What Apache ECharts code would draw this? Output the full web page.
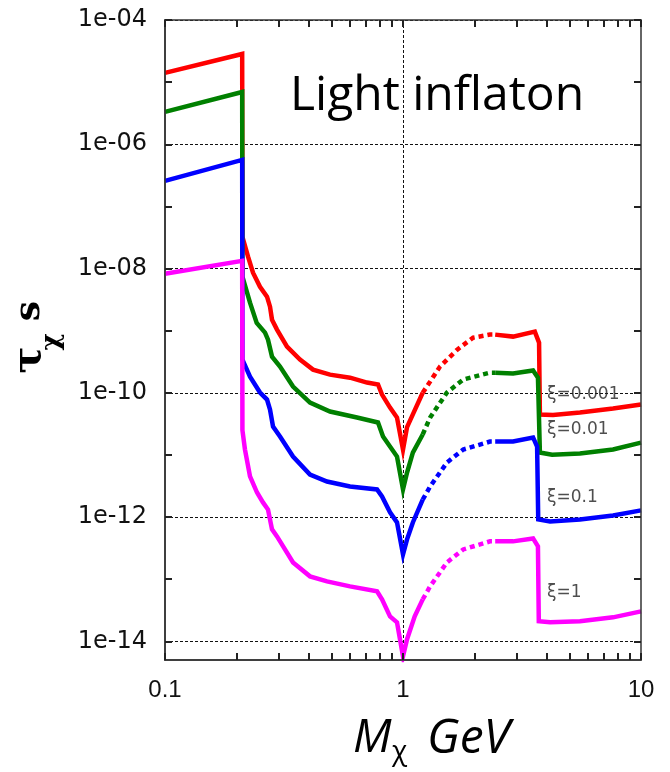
<!DOCTYPE html>
<html>
<head>
<meta charset="utf-8">
<title>Light inflaton lifetime</title>
<script src="https://cdn.jsdelivr.net/npm/echarts@6/dist/echarts.min.js"></script>
<style>
  html, body { margin: 0; padding: 0; background: #fff; }
  #chart { width: 670px; height: 772px; }
</style>
</head>
<body>
<div id="chart"></div>
<script>
// M_X [GeV] vs tau_X [s]; each coupling split into solid / dotted / solid pieces
const xi0001Low = [[0.1, 1.41e-5], [0.211, 2.84e-5], [0.2115, 3.24e-8], [0.2233, 1.55e-8], [0.2343, 8.55e-9],
  [0.2507, 5.09e-9], [0.2683, 3.52e-9], [0.2762, 2.43e-9], [0.2816, 1.50e-9], [0.2955, 1.04e-9],
  [0.3255, 5.53e-10], [0.3692, 3.42e-10], [0.4187, 2.36e-10], [0.4935, 1.96e-10], [0.5989, 1.75e-10],
  [0.7061, 1.46e-10], [0.7852, 1.36e-10], [0.8163, 9.35e-11], [0.882, 5.78e-11], [0.9437, 3.99e-11],
  [1.0, 1.22e-11], [1.04, 2.8e-11], [1.1, 4.5e-11], [1.21, 1.0e-10]];
const xi0001Gap = [[1.21, 1.0e-10], [1.26, 1.26e-10], [1.43, 2.64e-10], [1.69, 4.95e-10], [1.97, 7.71e-10],
  [2.32, 8.63e-10], [2.44, 8.63e-10]];
const xi0001High = [[2.44, 8.63e-10], [2.90, 8.02e-10], [3.58, 9.64e-10], [3.73, 6.41e-10], [3.76, 4.47e-11],
  [4.27, 4.4e-11], [5.54, 4.81e-11], [7.63, 5.57e-11], [10, 6.46e-11]];

const xi001Low = [[0.1, 3.32e-6], [0.211, 6.95e-6], [0.2115, 7.38e-9], [0.2276, 2.82e-9], [0.2428, 1.33e-9],
  [0.2632, 9.29e-10], [0.2709, 7.16e-10], [0.2816, 3.82e-10], [0.3042, 2.64e-10], [0.3451, 1.26e-10],
  [0.4067, 6.95e-11], [0.4935, 4.99e-11], [0.6408, 3.99e-11], [0.7852, 3.32e-11], [0.8242, 1.98e-11],
  [0.9437, 9.42e-12], [1.0, 2.78e-12], [1.04, 5.21e-12], [1.1, 1.09e-11], [1.21, 2.13e-11]];
const xi001Gap = [[1.21, 2.13e-11], [1.30, 3.99e-11], [1.53, 1.01e-10], [1.79, 1.63e-10], [2.32, 2.11e-10],
  [2.44, 2.11e-10]];
const xi001High = [[2.44, 2.11e-10], [2.90, 2.04e-10], [3.52, 2.28e-10], [3.69, 1.75e-10], [3.76, 1.09e-11],
  [4.23, 1.01e-11], [5.54, 1.05e-11], [7.63, 1.22e-11], [10, 1.58e-11]];

const xi01Low = [[0.1, 2.58e-7], [0.211, 5.61e-7], [0.2115, 3.42e-10], [0.2276, 1.82e-10], [0.2507, 1.01e-10],
  [0.2683, 7.78e-11], [0.2762, 5.37e-11], [0.2844, 2.86e-11], [0.3042, 1.98e-11], [0.3451, 9.42e-12],
  [0.4067, 4.84e-12], [0.4794, 3.73e-12], [0.5989, 3.10e-12], [0.7778, 2.78e-12], [0.8163, 2.14e-12],
  [0.882, 1.19e-12], [0.9437, 8.18e-13], [1.0, 2.51e-13], [1.04, 4.37e-13], [1.1, 8.18e-13], [1.21, 1.9e-12]];
const xi01Gap = [[1.21, 1.9e-12], [1.30, 3.1e-12], [1.53, 7.55e-12], [1.79, 1.22e-11], [2.32, 1.64e-11],
  [2.44, 1.64e-11]];
const xi01High = [[2.44, 1.64e-11], [2.90, 1.64e-11], [3.52, 1.91e-11], [3.66, 1.36e-11], [3.70, 9.14e-13],
  [4.15, 8.49e-13], [5.54, 9.14e-13], [7.63, 1.06e-12], [10, 1.28e-12]];

const xi1Low = [[0.1, 8.24e-9], [0.211, 1.33e-8], [0.2115, 2.5e-11], [0.2168, 1.22e-11], [0.2276, 4.5e-12],
  [0.2436, 2.48e-12], [0.258, 1.72e-12], [0.2709, 1.32e-12], [0.2816, 6.32e-13], [0.2955, 4.88e-13],
  [0.3451, 1.86e-13], [0.4067, 1.11e-13], [0.4794, 9.23e-14], [0.5989, 7.66e-14], [0.7778, 6.37e-14],
  [0.8163, 4.73e-14], [0.882, 2.52e-14], [0.9437, 2.02e-14], [1.0, 5.74e-15], [1.04, 1.08e-14],
  [1.12, 2.52e-14], [1.21, 4.73e-14]];
const xi1Gap = [[1.21, 4.73e-14], [1.30, 7.66e-14], [1.53, 1.86e-13], [1.79, 3.01e-13], [2.32, 4.06e-13],
  [2.44, 4.06e-13]];
const xi1High = [[2.44, 4.06e-13], [2.90, 4.06e-13], [3.52, 4.53e-13], [3.69, 3.37e-13], [3.72, 2.1e-14],
  [4.15, 2.02e-14], [5.54, 2.1e-14], [7.63, 2.43e-14], [10, 3.03e-14]];

const curveLabels = [[4.03, 9.35e-11, 'ξ=0.001'], [4.03, 2.56e-11, 'ξ=0.01'], [4.03, 2.07e-12, 'ξ=0.1'],
  [4.03, 6.14e-14, 'ξ=1']];

const xLabelTicks = [0.1, 1, 10];
const xAllTicks = [0.1, 0.2, 0.3, 0.4, 0.5, 0.6, 0.7, 0.8, 0.9, 1, 2, 3, 4, 5, 6, 7, 8, 9, 10];
const xGridTicks = [1];
const yLabelTicks = [1e-14, 1e-12, 1e-10, 1e-8, 1e-6, 1e-4];
const yAllTicks = [1e-14, 1e-13, 1e-12, 1e-11, 1e-10, 1e-9, 1e-8, 1e-7, 1e-6, 1e-5, 1e-4];

const chart = echarts.init(document.getElementById('chart'), null, { renderer: 'canvas' });

const frame = { color: '#333', width: 1.5 };
const tick = { color: '#222', width: 2 };
const grid = { type: [3, 2], color: '#111', width: 1 };
const X_RANGE = { type: 'log', logBase: 10, min: 0.1, max: 10 };
const Y_RANGE = { type: 'log', logBase: 10, min: 5e-15, max: 1e-4 };

function yLabel(v) {
  const e = Math.round(Math.log10(v));
  return '1e-' + String(-e).padStart(2, '0');
}
function xLabel(v) {
  return v < 1 ? '0.1' : String(Math.round(v));
}

// labelled axes: frame line + text, no ticks
const xLabelAxis = Object.assign({}, X_RANGE, {
  position: 'bottom',
  axisLine: { show: true, onZero: false, lineStyle: frame },
  axisTick: { show: false },
  axisLabel: { show: true, customValues: xLabelTicks, formatter: xLabel, margin: 18,
    fontFamily: 'Liberation Sans', fontSize: 24, color: '#111' },
  splitLine: { show: false }
});
const yLabelAxis = Object.assign({}, Y_RANGE, {
  position: 'left',
  axisLine: { show: true, onZero: false, lineStyle: frame },
  axisTick: { show: false },
  axisLabel: { show: true, customValues: yLabelTicks, formatter: yLabel, margin: 18,
    fontFamily: 'DejaVu Sans', fontSize: 24, color: '#111' },
  splitLine: { show: false }
});
// tick-only axes on all four sides
function tickAxis(range, position, values) {
  return Object.assign({}, range, {
    position, z: 5,
    axisLine: { show: true, onZero: false, lineStyle: frame },
    axisTick: { show: true, inside: true, length: 7, customValues: values, lineStyle: tick },
    axisLabel: { show: false },
    splitLine: { show: false }
  });
}
// grid-only axes
function gridAxis(range, position, values) {
  return Object.assign({}, range, {
    position,
    axisLine: { show: false }, axisLabel: { show: false },
    axisTick: { show: false, customValues: values },
    splitLine: { show: true, lineStyle: grid }
  });
}

function curve(data, color, dotted) {
  return {
    type: 'line', data, xAxisIndex: 0, yAxisIndex: 0, symbol: 'none', silent: true, z: 3,
    lineStyle: { color, width: 4.5, type: dotted ? [5, 4] : 'solid', cap: 'butt', join: 'miter' }
  };
}

const colors = ['#ff0000', '#008000', '#0000ff', '#ff00ff'];
const pieces = [
  [xi0001Low, xi0001Gap, xi0001High],
  [xi001Low, xi001Gap, xi001High],
  [xi01Low, xi01Gap, xi01High],
  [xi1Low, xi1Gap, xi1High]
];
const series = [];
pieces.forEach((p, i) => {
  series.push(curve(p[0], colors[i], false));
  series.push(curve(p[1], colors[i], true));
  series.push(curve(p[2], colors[i], false));
});
series.push({
  type: 'scatter', xAxisIndex: 0, yAxisIndex: 0, symbolSize: 0, silent: true, z: 4,
  data: curveLabels.map(d => ({ value: [d[0], d[1]], name: d[2] })),
  label: { show: true, position: 'right', distance: 0, formatter: p => p.name,
    fontFamily: 'DejaVu Sans', fontSize: 17, color: '#222' }
});

chart.setOption({
  animation: false,
  backgroundColor: '#fff',
  grid: { left: 165, right: 29, top: 20, bottom: 112, containLabel: false },
  xAxis: [xLabelAxis, tickAxis(X_RANGE, 'bottom', xAllTicks), tickAxis(X_RANGE, 'top', xAllTicks),
    gridAxis(X_RANGE, 'bottom', xGridTicks)],
  yAxis: [yLabelAxis, tickAxis(Y_RANGE, 'left', yAllTicks), tickAxis(Y_RANGE, 'right', yAllTicks),
    gridAxis(Y_RANGE, 'left', yLabelTicks)],
  series,
  graphic: [
    { type: 'text', left: 290, top: 72, z: 10, silent: true,
      style: { text: 'Light inflaton', fontFamily: 'Open Sans', fontSize: 48, fill: '#000' } },
    { type: 'text', x: 353, y: 739, z: 10, silent: true,
      style: { text: 'M', fontFamily: 'Open Sans', fontStyle: 'italic', fontSize: 46, fill: '#000',
        textAlign: 'left', textVerticalAlign: 'middle' } },
    { type: 'text', x: 392, y: 752, z: 10, silent: true,
      style: { text: 'χ', fontFamily: 'Open Sans', fontSize: 28, fill: '#000',
        textAlign: 'left', textVerticalAlign: 'middle' } },
    { type: 'text', x: 427, y: 739, z: 10, silent: true,
      style: { text: 'GeV', fontFamily: 'Open Sans', fontStyle: 'italic', fontSize: 48, fill: '#000',
        textAlign: 'left', textVerticalAlign: 'middle' } },
    { type: 'group', x: 30, y: 340, rotation: Math.PI / 2, silent: true, z: 10,
      children: [
        { type: 'text', x: -20, y: 0,
          style: { text: 'τ', fontFamily: 'DejaVu Serif', fontWeight: 'bold', fontSize: 40, fill: '#000',
            textAlign: 'center', textVerticalAlign: 'middle' } },
        { type: 'text', x: -2, y: 22,
          style: { text: 'χ', fontFamily: 'DejaVu Serif', fontWeight: 'bold', fontSize: 26, fill: '#000',
            textAlign: 'center', textVerticalAlign: 'middle' } },
        { type: 'text', x: 29, y: 0,
          style: { text: 's', fontFamily: 'DejaVu Serif', fontWeight: 'bold', fontSize: 36, fill: '#000',
            textAlign: 'center', textVerticalAlign: 'middle' } }
      ] }
  ]
});
</script>
</body>
</html>
